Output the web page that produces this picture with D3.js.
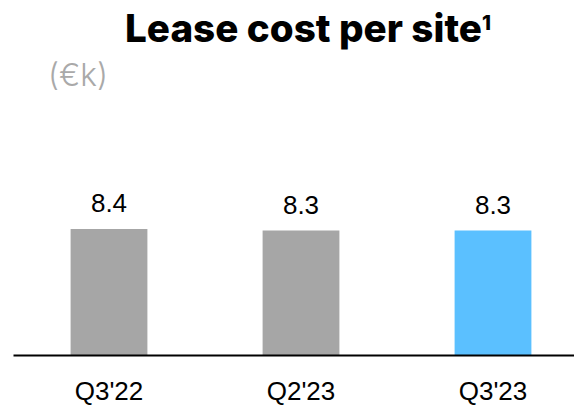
<!DOCTYPE html>
<html>
<head>
<meta charset="utf-8">
<script src="https://cdn.jsdelivr.net/npm/d3@7"></script>
<style>
  html, body { margin: 0; padding: 0; background: #fff; }
  svg { display: block; }
</style>
</head>
<body>
<svg id="chart" width="574" height="409"></svg>
<script>
const categories = ["Q3'22", "Q2'23", "Q3'23"];
const values = [8.4, 8.3, 8.3];
const barColors = ["#a6a6a6", "#a6a6a6", "#5bc0ff"];
const titleText = "Lease cost per site";
const titleSup = "1";
const unitText = "(€k)";

const W = 574, H = 409;
const svg = d3.select("#chart");

const baseY = 355;
const x = d3.scaleBand().domain(categories).range([13, 589]).paddingInner(0.6).paddingOuter(0.3);
const y = d3.scaleLinear().domain([0, 10]).range([baseY, 205]);

// Title
const title = svg.append("text")
  .attr("x", 308).attr("y", 42)
  .attr("text-anchor", "middle")
  .style("font-family", "Inter, Lato, 'Noto Sans', sans-serif")
  .style("font-weight", 800)
  .style("font-size", "32px")
  .style("fill", "#000");
title.append("tspan").text(titleText);
title.append("tspan").text(titleSup)
  .style("font-size", "17px").attr("dy", "-12");
const tw = title.node().getComputedTextLength();
if (tw > 0) {
  const s = 32 * 366 / tw;
  title.style("font-size", s + "px");
  title.select("tspan:nth-child(2)").style("font-size", (s * 0.53) + "px");
}

// Unit
const unit = svg.append("text")
  .attr("x", 48).attr("y", 86)
  .style("font-family", "Inter, 'Noto Sans', sans-serif")
  .style("font-weight", 300)
  .style("font-size", "27px")
  .style("fill", "#a9a9a9")
  .text(unitText);
const uw = unit.node().getComputedTextLength();
if (uw > 0) unit.style("font-size", (27 * 60 / uw) + "px");

// Bars
svg.selectAll("rect.bar").data(values).join("rect")
  .attr("class", "bar")
  .attr("x", (d, i) => x(categories[i]))
  .attr("y", d => y(d))
  .attr("width", x.bandwidth())
  .attr("height", d => y(0) - y(d))
  .attr("fill", (d, i) => barColors[i]);

// Value labels
svg.selectAll("text.val").data(values).join("text")
  .attr("class", "val")
  .attr("x", (d, i) => x(categories[i]) + x.bandwidth() / 2)
  .attr("y", d => y(d) - 17)
  .attr("text-anchor", "middle")
  .style("font-family", "'Liberation Sans', Arial, sans-serif")
  .style("font-size", "26px")
  .style("fill", "#000")
  .text(d => d.toFixed(1));

// Axis
const axis = svg.append("g")
  .attr("transform", `translate(0,${baseY})`)
  .call(d3.axisBottom(x).tickSize(0).tickSizeOuter(0));
axis.select(".domain").attr("stroke", "#000").attr("stroke-width", 2);
axis.selectAll(".tick text")
  .attr("y", 45).attr("dy", 0)
  .style("font-family", "'Liberation Sans', Arial, sans-serif")
  .style("font-size", "26px")
  .style("fill", "#000");
</script>
</body>
</html>
